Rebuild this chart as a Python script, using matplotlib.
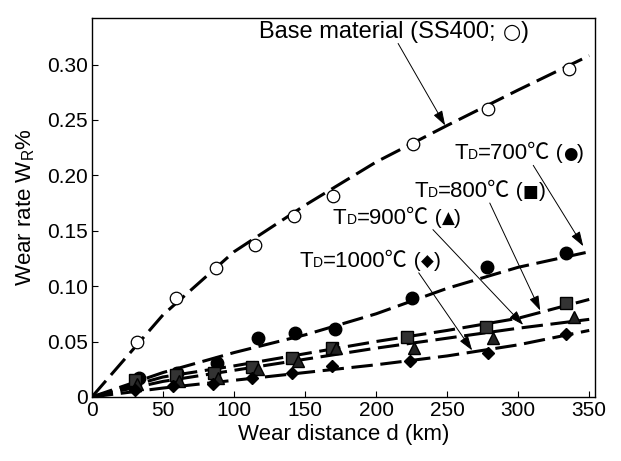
import numpy as np
import matplotlib
matplotlib.use("Agg")
import matplotlib.pyplot as plt
from matplotlib.offsetbox import TextArea, HPacker, AnnotationBbox

fam = ['Liberation Sans', 'Noto Sans CJK JP', 'DejaVu Sans']
sym_fam = ['DejaVu Sans']
plt.rcParams['font.family'] = fam
plt.rcParams['mathtext.fontset'] = 'custom'
plt.rcParams['mathtext.rm'] = 'Liberation Sans'

# measured points (wear distance km, wear rate %)
base_x = [32, 59, 87, 115, 142, 170, 226, 279, 336]
base_y = [0.050, 0.089, 0.116, 0.137, 0.163, 0.181, 0.228, 0.260, 0.296]

t700_x = [33, 60, 88, 117, 143, 171, 225, 278, 334]
t700_y = [0.017, 0.022, 0.031, 0.053, 0.058, 0.061, 0.089, 0.117, 0.130]

t800_x = [30, 59, 86, 113, 141, 169, 222, 277, 334]
t800_y = [0.015, 0.020, 0.022, 0.027, 0.035, 0.044, 0.054, 0.063, 0.085]

t900_x = [32, 61, 89, 117, 145, 172, 227, 282, 339]
t900_y = [0.012, 0.014, 0.017, 0.025, 0.032, 0.044, 0.044, 0.053, 0.072]

t1000_x = [30, 57, 85, 113, 141, 169, 224, 279, 334]
t1000_y = [0.006, 0.010, 0.012, 0.017, 0.022, 0.028, 0.032, 0.040, 0.057]

# trend curves
fit_x = [0, 50, 100, 150, 200, 250, 300, 350]
base_fit = [0, 0.074, 0.131, 0.173, 0.212, 0.245, 0.277, 0.308]
t700_fit = [0, 0.022, 0.040, 0.056, 0.075, 0.098, 0.117, 0.131]
t800_fit = [0, 0.018, 0.028, 0.039, 0.050, 0.060, 0.071, 0.088]
t900_fit = [0, 0.014, 0.024, 0.034, 0.044, 0.053, 0.062, 0.070]
t1000_fit = [0, 0.008, 0.015, 0.022, 0.029, 0.037, 0.047, 0.060]

fig = plt.figure(figsize=(6.21, 4.61), dpi=100)
ax = fig.add_axes([0.148, 0.139, 0.81, 0.822])

dash = (7, 2.5)
lw = 2.2
for fy in [base_fit, t700_fit, t800_fit, t900_fit, t1000_fit]:
    ax.plot(fit_x, fy, color='black', lw=lw, dashes=dash, zorder=2)

ms = 9
ax.plot(base_x, base_y, 'o', ms=ms, mfc='white', mec='black', mew=0.9, zorder=3)
ax.plot(t700_x, t700_y, 'o', ms=ms, mfc='black', mec='black', zorder=3)
ax.plot(t800_x, t800_y, 's', ms=ms - 1, mfc='#333333', mec='black', zorder=3)
ax.plot(t900_x, t900_y, '^', ms=ms, mfc='#222222', mec='black', zorder=3)
ax.plot(t1000_x, t1000_y, 'D', ms=ms - 2.5, mfc='black', mec='black', zorder=3)

ax.set_xlim(0, 354)
ax.set_ylim(0, 0.342)
ax.set_xticks([0, 50, 100, 150, 200, 250, 300, 350])
ax.set_yticks([0, 0.05, 0.10, 0.15, 0.20, 0.25, 0.30])
ax.set_yticklabels(['0', '0.05', '0.10', '0.15', '0.20', '0.25', '0.30'])
ax.tick_params(direction='in', labelsize=15, length=4, width=0.8, pad=3)
for s in ax.spines.values():
    s.set_linewidth(1.0)

ax.set_xlabel('Wear distance d (km)', fontsize=16, labelpad=3)
ax.set_ylabel('Wear rate W$_\\mathrm{R}$%', fontsize=16, labelpad=7)

arrow = dict(arrowstyle='-|>,head_length=0.9,head_width=0.3', color='black',
             lw=0.7, shrinkA=0, shrinkB=0)
fs = 16


def place(parts, pos):
    box = HPacker(children=parts, align='baseline', pad=0, sep=0)
    ab = AnnotationBbox(box, pos, xycoords='data', frameon=False,
                        box_alignment=(0.5, 0.5), pad=0)
    ax.add_artist(ab)


place([TextArea('Base material (SS400; ', textprops=dict(fontsize=17, family=fam)),
       TextArea('\u25cb', textprops=dict(fontsize=15, family=sym_fam)),
       TextArea(')', textprops=dict(fontsize=17, family=fam))],
      (212.7, 0.329))
ax.annotate('', xy=(248.6, 0.245), xytext=(215.5, 0.319), arrowprops=arrow)

labels = [
    ('700', '\u25cf', (300.7, 0.220), (310.6, 0.209), (345.8, 0.136)),
    ('800', '\u25a0', (273.0, 0.185), (280.0, 0.175), (315.5, 0.078)),
    ('900', '\u25b2', (214.8, 0.161), (240.0, 0.151), (303.5, 0.065)),
    ('1000', '\u25c6', (195.8, 0.122), (230.0, 0.112), (267.6, 0.042)),
]
for temp, sym, pos, start, tip in labels:
    place([
        TextArea('T', textprops=dict(fontsize=fs, family=fam)),
        TextArea('D', textprops=dict(fontsize=10, family=fam)),
        TextArea('=' + temp + '\u2103', textprops=dict(fontsize=fs, family=fam)),
        TextArea(' (', textprops=dict(fontsize=fs - 1, family=fam)),
        TextArea(sym, textprops=dict(fontsize=12, family=sym_fam)),
        TextArea(')', textprops=dict(fontsize=fs - 1, family=fam)),
    ], pos)
    ax.annotate('', xy=tip, xytext=start, arrowprops=arrow)

fig.savefig('out.png', dpi=100)
